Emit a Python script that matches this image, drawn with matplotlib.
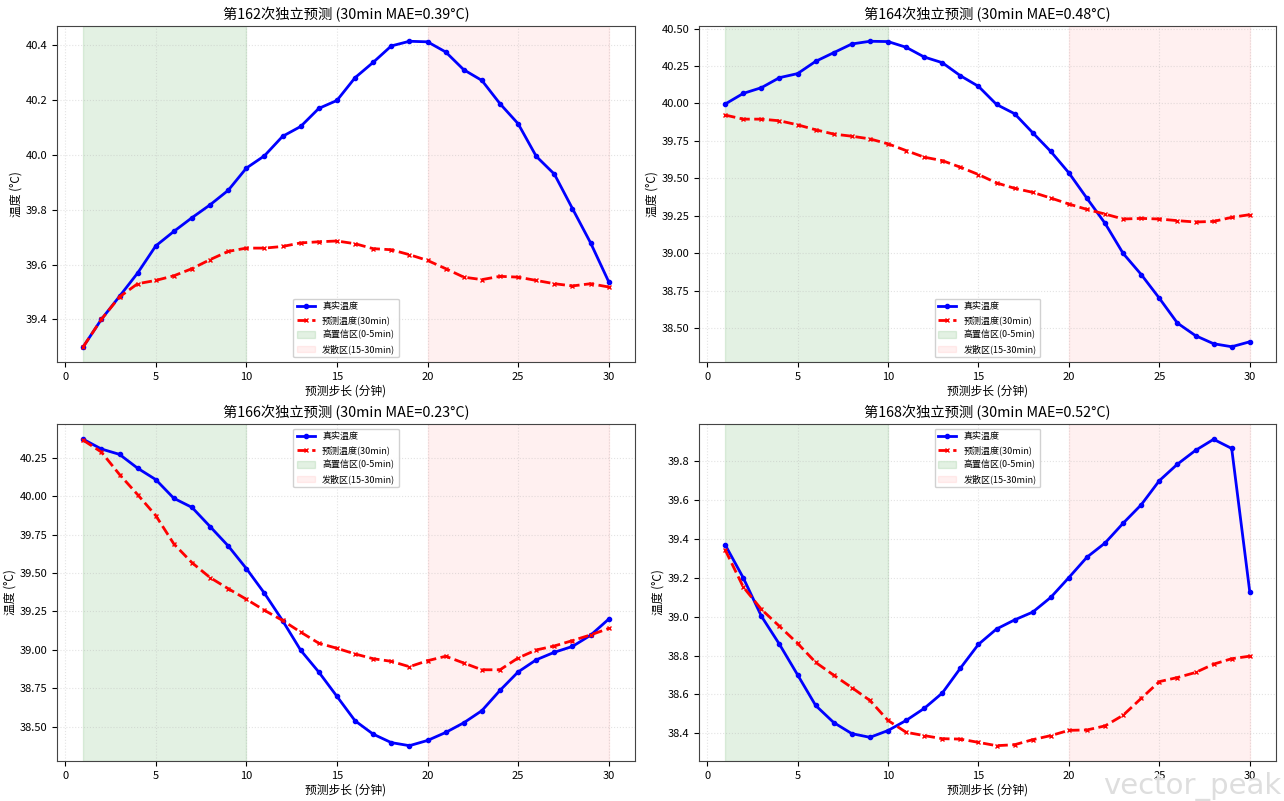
import matplotlib
matplotlib.use("Agg")
import matplotlib.pyplot as plt

plt.rcParams['font.family'] = ['Noto Sans CJK SC', 'DejaVu Sans']
plt.rcParams['axes.unicode_minus'] = False

steps = list(range(1, 31))

titles = ["第162次独立预测 (30min MAE=0.39°C)",
          "第164次独立预测 (30min MAE=0.48°C)",
          "第166次独立预测 (30min MAE=0.23°C)",
          "第168次独立预测 (30min MAE=0.52°C)"]

true_162 = [39.30, 39.40, 39.484, 39.569, 39.668, 39.721, 39.771, 39.818, 39.871, 39.952,
            39.997, 40.068, 40.104, 40.170, 40.199, 40.282, 40.338, 40.398, 40.415, 40.413,
            40.376, 40.311, 40.272, 40.187, 40.114, 39.995, 39.930, 39.804, 39.679, 39.537]
pred_162 = [39.30, 39.40, 39.482, 39.530, 39.542, 39.559, 39.585, 39.618, 39.648, 39.660,
            39.660, 39.666, 39.679, 39.683, 39.686, 39.676, 39.658, 39.654, 39.636, 39.615,
            39.585, 39.554, 39.545, 39.557, 39.554, 39.542, 39.530, 39.522, 39.530, 39.518]

true_164 = [39.996, 40.067, 40.105, 40.172, 40.199, 40.281, 40.339, 40.397, 40.415, 40.413,
            40.375, 40.310, 40.272, 40.185, 40.114, 39.993, 39.931, 39.804, 39.679, 39.536,
            39.366, 39.199, 38.998, 38.857, 38.699, 38.533, 38.449, 38.395, 38.375, 38.408]
pred_164 = [39.922, 39.895, 39.895, 39.884, 39.857, 39.824, 39.795, 39.781, 39.763, 39.730,
            39.685, 39.641, 39.618, 39.574, 39.525, 39.469, 39.433, 39.406, 39.368, 39.328,
            39.292, 39.261, 39.228, 39.232, 39.228, 39.217, 39.208, 39.212, 39.239, 39.257]

true_166 = [40.370, 40.307, 40.272, 40.182, 40.108, 39.986, 39.927, 39.802, 39.676, 39.529,
            39.368, 39.190, 38.997, 38.855, 38.697, 38.538, 38.451, 38.396, 38.376, 38.410,
            38.462, 38.525, 38.604, 38.736, 38.856, 38.935, 38.984, 39.022, 39.095, 39.200]
pred_166 = [40.364, 40.287, 40.141, 40.010, 39.874, 39.689, 39.567, 39.470, 39.398, 39.329,
            39.257, 39.191, 39.115, 39.043, 39.010, 38.973, 38.942, 38.925, 38.890, 38.929,
            38.958, 38.914, 38.870, 38.870, 38.947, 38.999, 39.025, 39.060, 39.097, 39.139]

true_168 = [39.370, 39.200, 39.003, 38.858, 38.701, 38.543, 38.455, 38.398, 38.379, 38.414,
            38.466, 38.528, 38.607, 38.735, 38.858, 38.937, 38.984, 39.024, 39.100, 39.202,
            39.307, 39.380, 39.482, 39.577, 39.701, 39.786, 39.857, 39.914, 39.867, 39.128]
pred_168 = [39.344, 39.153, 39.038, 38.951, 38.863, 38.765, 38.699, 38.635, 38.569, 38.466,
            38.405, 38.388, 38.372, 38.370, 38.353, 38.336, 38.341, 38.367, 38.388, 38.415,
            38.417, 38.438, 38.493, 38.580, 38.666, 38.687, 38.713, 38.756, 38.784, 38.797]

true_series = [true_162, true_164, true_166, true_168]
pred_series = [pred_162, pred_164, pred_166, pred_168]
legend_locs = ['lower center', 'lower center', 'upper center', 'upper center']

W, H = 1284, 801
fig = plt.figure(figsize=(W / 100, H / 100), dpi=100)

# axes boxes in pixels: left, top, right, bottom
boxes = [(57, 26, 635, 362), (699, 26, 1276, 362),
         (57, 424, 635, 761), (699, 424, 1276, 761)]

for i in range(4):
    l, t, r, b = boxes[i]
    ax = fig.add_axes([l / W, 1 - b / H, (r - l) / W, (b - t) / H])
    ax.axvspan(1, 10, color='green', alpha=0.11, label='高置信区(0-5min)')
    ax.axvspan(20, 30, color='red', alpha=0.06, label='发散区(15-30min)')
    ax.plot(steps, true_series[i], color='blue', lw=2, marker='o', markersize=3,
            label='真实温度', zorder=3)
    ax.plot(steps, pred_series[i], color='red', lw=2, ls='--', marker='x', markersize=3,
            label='预测温度(30min)', zorder=3)
    ax.set_title(titles[i], fontsize=10.3, pad=5)
    ax.set_xlabel('预测步长 (分钟)', fontsize=8.5, labelpad=2)
    ax.set_ylabel('温度 (°C)', fontsize=8.5, labelpad=2)
    ax.tick_params(labelsize=8)
    ax.grid(True, ls=':', alpha=0.35)
    handles, labels = ax.get_legend_handles_labels()
    order = [2, 3, 0, 1]
    ax.legend([handles[k] for k in order], [labels[k] for k in order],
              loc=legend_locs[i], fontsize=6.5, framealpha=0.9)
    for s in ax.spines.values():
        s.set_color('#444444')

fig.text(0.998, 0.0, 'vector_peak', ha='right', va='bottom', fontsize=21,
         color='#dedede', family=['DejaVu Sans'], zorder=0)

fig.savefig('out.png', dpi=100)
